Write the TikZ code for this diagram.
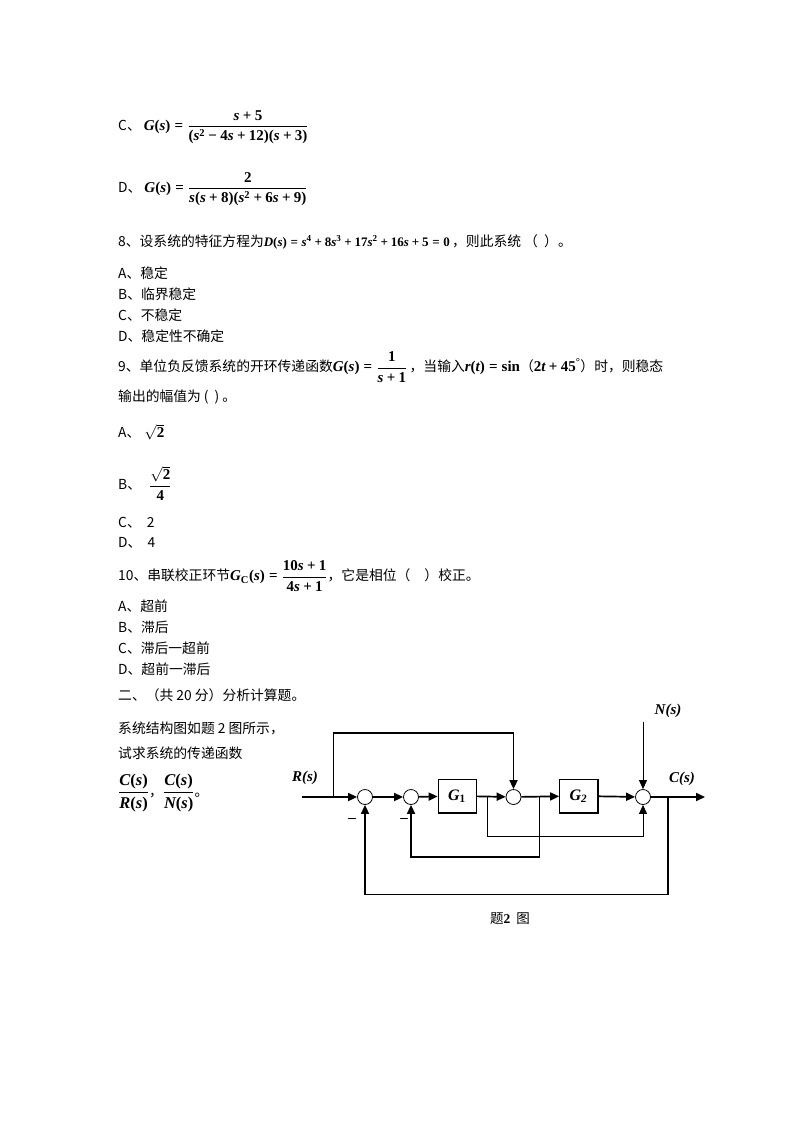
\RequirePackage{fix-cm}
\documentclass[tikz,border=0pt]{standalone}
\usepackage{amsmath}
\usepackage{fontspec}
\newfontfamily\cjk{Noto Sans CJK SC}
\newfontfamily\tnr{Liberation Serif}
\usetikzlibrary{arrows.meta}
\newcommand\mT[1]{\text{\tnr\bfseries #1}}
\newcommand\mI[1]{\text{\tnr\bfseries\itshape #1}}
\newcommand\mP{\mathbin{\mT{+}}}
\newcommand\mE{\mathrel{\mT{=}}}
\newcommand\mM{\mathbin{\mT{−}}}
\newcommand\MF[1]{{\fontsize{15}{18}\selectfont$#1$}}
\newcommand\MS[1]{{\fontsize{13}{16}\selectfont$#1$}}
\newcommand\ML[1]{{\fontsize{16.5}{20}\selectfont$#1$}}
\begin{document}
\begin{tikzpicture}[x=1pt,y=-1pt,
  txt/.style={anchor=west,inner sep=0pt,font=\cjk\fontsize{13.8}{16}\selectfont},
  lbl/.style={inner sep=0pt,font=\tnr\bfseries\itshape\fontsize{15}{18}\selectfont},
  sumnode/.style={circle,draw,line width=0.8pt,minimum size=15pt,inner sep=0pt},
  blk/.style={draw,line width=0.8pt,minimum width=38pt,minimum height=33pt,inner sep=0pt,font=\tnr\bfseries\itshape\fontsize{16}{18}\selectfont},
  mainline/.style={line width=1.7pt},
  thinline/.style={line width=0.8pt},
  arr/.style={-{Triangle[length=9pt,width=8pt]}},
  minus/.style={inner sep=0pt,font=\tnr\bfseries\fontsize{15}{17}\selectfont}
]
\useasboundingbox (0,0) rectangle (794,1123);
\fill[white] (0,0) rectangle (794,1123);

% ---------- question text ----------
\node[txt] (lc) at (118,127) {C、\hspace{3pt}\MF{\mI{G}\mT{(}\mI{s}\mT{)}\mE\dfrac{\mI{s}\mP\mT{5}}{\mT{(}\mI{s}^{\mT{2}}\mM\mT{4}\mI{s}\mP\mT{12)(}\mI{s}\mP\mT{3)}}}};
\node[txt] (ld) at (118,189) {D、\hspace{3pt}\MF{\mI{G}\mT{(}\mI{s}\mT{)}\mE\dfrac{\mT{2}}{\mI{s}\mT{(}\mI{s}\mP\mT{8)(}\mI{s}^{\mT{2}}\mP\mT{6}\mI{s}\mP\mT{9)}}}};

\node[txt] (q8) at (118,242) {8、设系统的特征方程为\MS{\mI{D}\mT{(}\mI{s}\mT{)}\mE\mI{s}^{\mT{4}}\mP\mT{8}\mI{s}^{\mT{3}}\mP\mT{17}\mI{s}^{\mT{2}}\mP\mT{16}\mI{s}\mP\mT{5}\mE\mT{0}}\,，则此系统\ （\ \ ）。};
\node[txt] (q8a) at (118,273) {A、稳定};
\node[txt] (q8b) at (118,294) {B、临界稳定};
\node[txt] (q8c) at (118,315) {C、不稳定};
\node[txt] (q8d) at (118,336) {D、稳定性不确定};

\node[txt] (q9) at (118,367) {9、单位负反馈系统的开环传递函数\MF{\mI{G}\mT{(}\mI{s}\mT{)}\mE\dfrac{\mT{1}}{\mI{s}\mP\mT{1}}}\,，当输入\MF{\mI{r}\mT{(}\mI{t}\mT{)}\mE\mT{sin}}（\MF{\mT{2}\mI{t}\mP\mT{45}^{\mT{°}}}）时，则稳态};
\node[txt] (q9l) at (118,397) {输出的幅值为\hspace{3pt}(\hspace{6pt})\hspace{3pt}。};
\node[txt] (q9a) at (118,432) {A、\hspace{4pt}\MF{\sqrt{\mT{2}}}};
\node[txt] (q9b) at (118,483) {B、\hspace{8pt}\MF{\dfrac{\sqrt{\mT{2}}}{\mT{4}}}};
\node[txt] (q9c) at (118,523) {C、\ \ 2};
\node[txt] (q9d) at (118,543) {D、\ \ 4};

\node[txt] (q10) at (118,576) {10、串联校正环节\MF{\mI{G}_{\mT{C}}\mT{(}\mI{s}\mT{)}\mE\dfrac{\mT{10}\mI{s}\mP\mT{1}}{\mT{4}\mI{s}\mP\mT{1}}}，它是相位（\hspace{14pt}）校正。};
\node[txt] (q10a) at (118,606) {A、超前};
\node[txt] (q10b) at (118,627) {B、滞后};
\node[txt] (q10c) at (118,648) {C、滞后一超前};
\node[txt] (q10d) at (118,669) {D、超前一滞后};

\node[txt] (sec2) at (118,695) {二、（共 20 分）分析计算题。};
\node[txt] (p1) at (118,728) {系统结构图如题 2 图所示，};
\node[txt] (p2) at (118,753) {试求系统的传递函数};
\node[txt] (p3) at (118,793) {\ML{\dfrac{\mI{C}\mT{(}\mI{s}\mT{)}}{\mI{R}\mT{(}\mI{s}\mT{)}}}，\ML{\dfrac{\mI{C}\mT{(}\mI{s}\mT{)}}{\mI{N}\mT{(}\mI{s}\mT{)}}}。};

% ---------- block diagram ----------
\node[sumnode] (s1) at (365,797) {};
\node[sumnode] (s2) at (411,797) {};
\node[sumnode] (s3) at (513.5,797) {};
\node[sumnode] (s4) at (643,797) {};
\node[blk] (g1) at (457,796) {G\textsubscript{\upshape 1}};
\node[blk] (g2) at (578.5,796) {G\textsubscript{2}};
\draw[line width=1.6pt] (g1.north east) -- (g1.south east) -- (g1.south west);
\draw[line width=1.6pt] (g2.north east) -- (g2.south east) -- (g2.south west);

\coordinate (in) at (301.5,797);
\coordinate (b0) at (333.5,797);
\coordinate (t0) at (333.5,733);
\coordinate (t1) at (513.5,733);
\coordinate (b1) at (487,797);
\coordinate (f1) at (487,836);
\coordinate (f2) at (643,836);
\coordinate (b2) at (539.5,797);
\coordinate (h1) at (539.5,857);
\coordinate (h2) at (411,857);
\coordinate (bc) at (668,797);
\coordinate (c1) at (668,894.5);
\coordinate (c2) at (365,894.5);
\coordinate (out) at (705,797);
\coordinate (ntop) at (643,721.5);

\draw[mainline,arr] (in) -- (s1);
\draw[mainline,arr] (s1) -- (s2);
\draw[mainline,arr] (s2) -- (g1);
\draw[mainline,arr] (g1) -- (s3);
\draw[mainline,arr] (s3) -- (g2);
\draw[mainline,arr] (g2) -- (s4);
\draw[mainline,arr] (s4) -- (out);
\draw[mainline,arr] (b0) -- (t0) -- (t1) -- (s3);
\draw[thinline,arr] (b1) -- (f1) -- (f2) -- (s4);
\draw[mainline,arr] (b2) -- (h1) -- (h2) -- (s2);
\draw[mainline,arr] (bc) -- (c1) -- (c2) -- (s1);
\draw[thinline,arr] (ntop) -- (s4);

\node[lbl] (rl) at (305,778) {R(s)};
\node[lbl] (cl) at (682,779) {C(s)};
\node[lbl] (nl) at (668,711) {N(s)};
\node[minus] (m1) at (352,820) {–};
\node[minus] (m2) at (404,820) {–};
\node[inner sep=0pt,font=\cjk\fontsize{13.5}{15}\selectfont] (cap) at (510,919) {题{\tnr\bfseries 2}\ \ 图};
\end{tikzpicture}
\end{document}
